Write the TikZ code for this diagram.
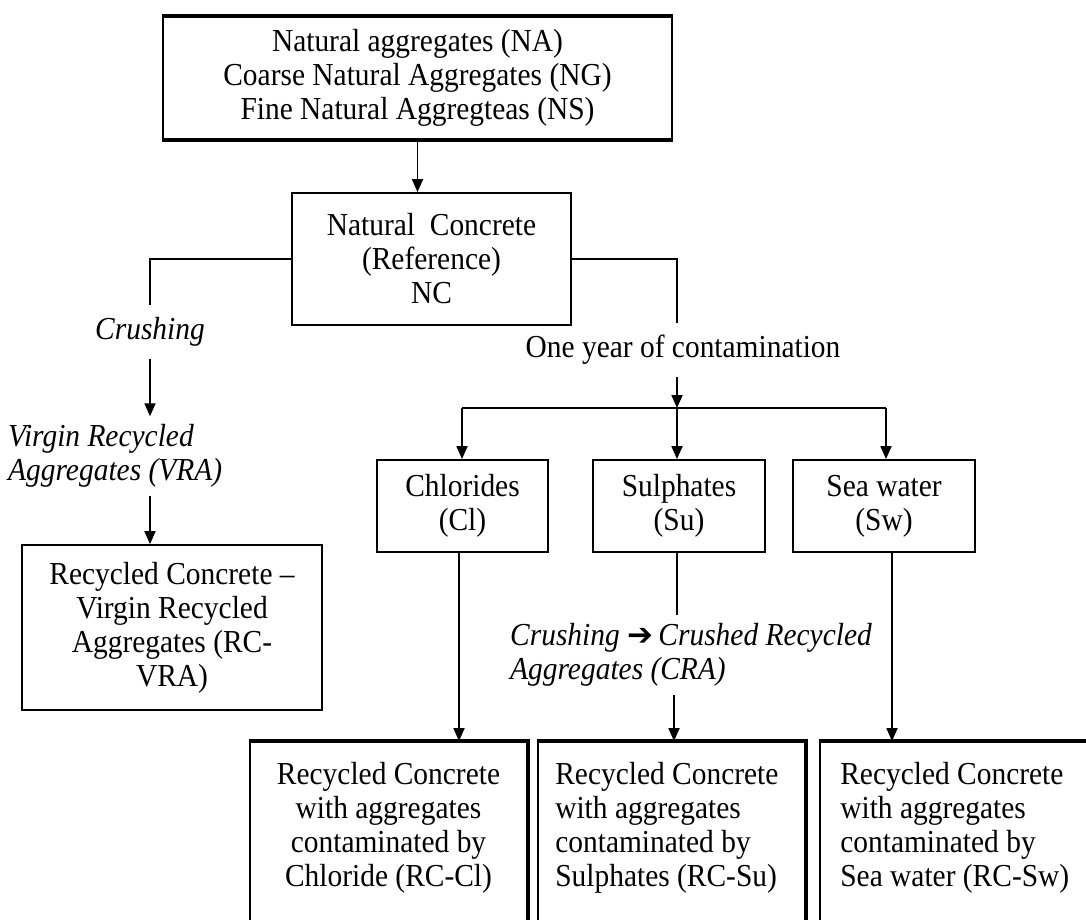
\documentclass[tikz,border=0pt]{standalone}
\usepackage{fontspec}
\setmainfont{Liberation Serif}[FakeStretch=0.92]
\newfontfamily\dejavu{DejaVu Sans}
\usetikzlibrary{arrows.meta}
\begin{document}
\begin{tikzpicture}[x=1pt,y=-1pt,
  every node/.style={font=\fontsize{32}{34}\selectfont},
  box/.style={draw, line width=1.8pt, inner sep=0pt, align=center},
  lbl/.style={inner xsep=2pt, align=center},
  itl/.style={inner xsep=2pt, align=left, font=\fontsize{32}{34}\selectfont\itshape},
  conn/.style={line width=1.8pt},
  arr/.style={line width=1.8pt, -{Triangle[width=11pt,length=13pt]}},
  thick edge/.style={line width=4.2pt}
]
\useasboundingbox (0,0) rectangle (1086,920);
\clip (0,0) rectangle (1086,920);
\fill[white] (0,0) rectangle (1086,920);

% top box
\node[box, minimum width=509pt, minimum height=122pt] (top) at (417.5,78)
  {Natural aggregates (NA)\\Coarse Natural Aggregates (NG)\\Fine Natural Aggregteas (NS)};
\draw[thick edge] (top.north west) -- (top.north east);
\draw[thick edge] (top.south west) -- (top.south east);

% natural concrete
\node[box, minimum width=279pt, minimum height=132pt] (nc) at (431.5,259)
  {Natural\ \ Concrete\\(Reference)\\NC};

% left branch
\node[itl, inner ysep=12pt] (crush) at (150,332) {Crushing};
\node[itl, inner ysep=8pt, anchor=west] (vra) at (6,456) {Virgin Recycled\\Aggregates (VRA)};
\node[box, minimum width=300pt, minimum height=165pt] (rcvra) at (172,627.5)
  {Recycled Concrete --\\Virgin Recycled\\Aggregates (RC-\\VRA)};

% right branch
\node[lbl, inner ysep=12pt] (oney) at (683,350) {One year of contamination};
\coordinate (bus) at (677,408);
\coordinate (busL) at (462,408);
\coordinate (busR) at (886,408);

\node[box, minimum width=171pt, minimum height=92pt] (cl) at (462.5,506) {Chlorides\\(Cl)};
\node[box, minimum width=172pt, minimum height=92pt] (su) at (679,506) {Sulphates\\(Su)};
\node[box, minimum width=182pt, minimum height=92pt] (sw) at (884,506) {Sea water\\(Sw)};

\node[itl, inner ysep=8pt, anchor=west] (cra) at (508,655)
  {Crushing {\upshape\dejavu\fontsize{31}{31}\selectfont\char"2794}\,Crushed Recycled\\Aggregates (CRA)};

% bottom boxes
\node[box, minimum width=277pt, minimum height=230pt] (b1) at (388.5,857) {};
\node[box, minimum width=267pt, minimum height=230pt] (b2) at (671.5,857) {};
\node[box, minimum width=275pt, minimum height=230pt] (b3) at (957.5,857) {};
\draw[thick edge] (b1.north west) -- (b1.north east) -- (b1.south east);
\draw[thick edge] (b2.north west) -- (b2.north east) -- (b2.south east);
\draw[thick edge] (b3.north west) -- (b3.north east) -- (b3.south east);

\node[inner sep=0pt, anchor=north, align=center] (t1) at ([yshift=-21pt]b1.north)
  {Recycled Concrete\\with aggregates\\contaminated by\\Chloride (RC-Cl)};
\node[inner sep=0pt, anchor=north west, align=left] (t2) at ([xshift=18pt,yshift=-21pt]b2.north west)
  {Recycled Concrete\\with aggregates\\contaminated by\\Sulphates (RC-Su)};
\node[inner sep=0pt, anchor=north west, align=left] (t3) at ([xshift=21pt,yshift=-21pt]b3.north west)
  {Recycled Concrete\\with aggregates\\contaminated by\\Sea water (RC-Sw)};

% connectors
\draw[arr] (top.south) -- (top.south |- nc.north);
\draw[conn] (nc.west) -| (crush.north);
\draw[arr] (crush.south) -- (crush.south |- vra.north);
\draw[arr] (crush.south |- vra.south) -- (crush.south |- rcvra.north);

\draw[conn] (nc.east) -| (bus |- oney.north);
\draw[arr] (bus |- oney.south) -- (bus);
\draw[conn] (busL) -- (busR);
\draw[arr] (busL) -- (busL |- cl.north);
\draw[arr] (bus) -- (bus |- su.north);
\draw[arr] (busR) -- (busR |- sw.north);

\draw[arr] ([xshift=-3.5pt]cl.south) -- ([xshift=-3.5pt]cl.south |- b1.north);
\draw[conn] (bus |- su.south) -- (bus |- cra.north);
\draw[arr] ([xshift=-3pt]bus |- cra.south) -- ([xshift=-3pt]bus |- b2.north);
\draw[arr] ([xshift=8pt]sw.south) -- ([xshift=8pt]sw.south |- b3.north);
\end{tikzpicture}
\end{document}
